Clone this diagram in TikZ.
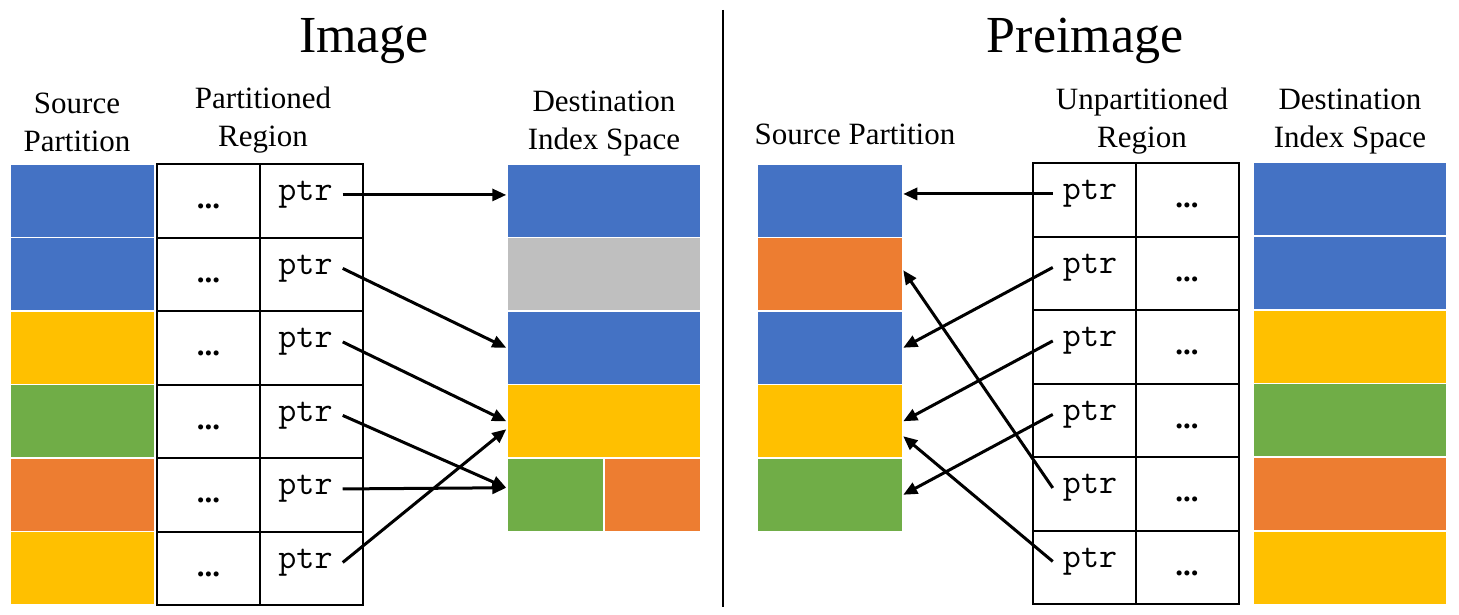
\documentclass[tikz,border=0pt]{standalone}
\usepackage{fontspec}
\setmainfont{Liberation Serif}
\usetikzlibrary{arrows.meta,calc}
\definecolor{cblue}{HTML}{4472C4}
\definecolor{corange}{HTML}{ED7D31}
\definecolor{cyellow}{HTML}{FFC000}
\definecolor{cgreen}{HTML}{70AD47}
\definecolor{cgray}{HTML}{BFBFBF}
\tikzset{%
  block/.style    = {shape=rectangle, draw=white, line width=1.5pt,%
                     inner sep=0pt, minimum height=73.5pt},%
  srcblock/.style = {block, minimum width=145pt},%
  dstblock/.style = {block, minimum width=194pt},%
  cell/.style     = {shape=rectangle, draw, line width=2pt,%
                     inner sep=0pt, minimum width=103pt, minimum height=73.5pt},%
  ptrtext/.style  = {font=\ttfamily\fontsize{35}{40}\selectfont,%
                     anchor=base, inner xsep=10pt, inner ysep=0pt},%
  dotstext/.style = {font=\bfseries\fontsize{31}{36}\selectfont, anchor=base},%
  head/.style     = {align=center, font=\fontsize{31}{38}\selectfont},%
  heading/.style  = {anchor=base, font=\fontsize{52}{60}\selectfont},%
  link/.style     = {line width=3pt, -{Triangle[length=14pt,width=12pt]}}%
}
\begin{document}
\begin{tikzpicture}[x=1pt,y=-1pt]
	\useasboundingbox (0,0) rectangle (1459,615);
	\node[heading] (img) at (364,53) {Image};%
	\node[heading] (pre) at (1085,53) {Preimage};%
	\draw[line width=2pt] (723,10) -- (723,607);%
	% image side
	\node[head] (lsh) at (77,122) {Source\\Partition};%
	\node[head] (lch) at (263,120) {Partitioned\\Region};%
	\node[head] (lth) at (604,124) {Destination\\Index Space};%
	\foreach \c [count=\i] in {cblue,cblue,cyellow,cgreen,corange,cyellow}
		\node[srcblock, fill=\c] (ls\i) at (82.5,{164+73.5*(\i-0.5)}) {};%
	\foreach \i in {1,...,6} {%
		\node[cell] (lx\i) at (208.5,{164+73.5*(\i-0.5)}) {};%
		\node[cell] (lc\i) at (311.5,{164+73.5*(\i-0.5)}) {};%
		\node[dotstext] (ldot\i) at ([yshift=-8pt]lx\i.center) {...};%
		\node[ptrtext] (lp\i) at ([xshift=-6pt]lc\i.center) {ptr};%
	}
	\foreach \c [count=\i] in {cblue,cgray,cblue,cyellow}
		\node[dstblock, fill=\c] (lt\i) at (604,{164+73.5*(\i-0.5)}) {};%
	\node[block, minimum width=97pt, fill=cgreen] (lt5a) at (555.5,494.75) {};%
	\node[block, minimum width=97pt, fill=corange] (lt5b) at (652.5,494.75) {};%
	\draw[link] (lp1.east) -- (lp1.east -| lt1.west);%
	\draw[link] (lp2.east) -- (lt3.west);%
	\draw[link] (lp3.east) -- (lt4.west);%
	\draw[link] (lp4.east) -- ([yshift=7pt]lt5a.west);%
	\draw[link] (lp5.east) -- ([yshift=7pt]lt5a.west);%
	\draw[link] (lp6.east) -- ([yshift=-8pt]lt4.west);%
	% preimage side
	\node[head, anchor=base] (rsh) at (855,145) {Source Partition};%
	\node[head] (rch) at (1142,121.5) {Unpartitioned\\Region};%
	\node[head] (rth) at (1350,121.5) {Destination\\Index Space};%
	\foreach \c [count=\i] in {cblue,corange,cblue,cyellow,cgreen}
		\node[srcblock, fill=\c] (rs\i) at (830,{164+73.5*(\i-0.5)}) {};%
	\foreach \i in {1,...,6} {%
		\node[cell] (rc\i) at (1084.5,{163+73.5*(\i-0.5)}) {};%
		\node[cell] (rx\i) at (1187,{163+73.5*(\i-0.5)}) {};%
		\node[dotstext] (rdot\i) at ([yshift=-8pt]rx\i.center) {...};%
		\node[ptrtext] (rp\i) at ([xshift=5.5pt]rc\i.center) {ptr};%
	}
	\foreach \c [count=\i] in {cblue,cblue,cyellow,cgreen,corange,cyellow}
		\node[dstblock, fill=\c] (rt\i) at (1350,{162+73.8*(\i-0.5)}) {};%
	\draw[link] (rp1.west) -- (rp1.west -| rs1.east);%
	\draw[link] (rp2.west) -- (rs3.east);%
	\draw[link] (rp3.west) -- (rs4.east);%
	\draw[link] (rp4.west) -- (rs5.east);%
	\draw[link] (rp5.west) -- ([yshift=4pt]rs2.east);%
	\draw[link] (rp6.west) -- ([yshift=-15pt]rs4.east);%
\end{tikzpicture}
\end{document}
